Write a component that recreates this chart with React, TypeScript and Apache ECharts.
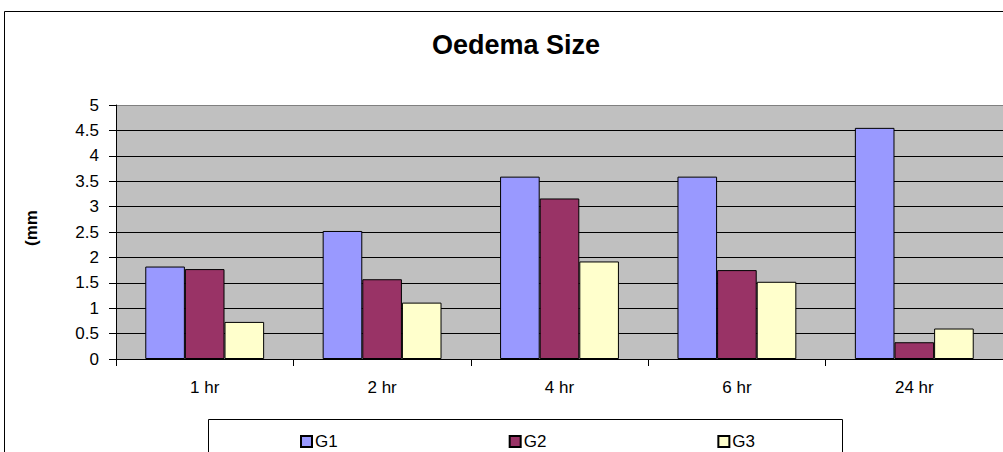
import React, { useEffect, useRef } from "react";
import * as echarts from "echarts";

const categories = ["1 hr", "2 hr", "4 hr", "6 hr", "24 hr"];
const seriesNames = ["G1", "G2", "G3"];
const g1 = [1.82, 2.52, 3.59, 3.59, 4.55];
const g2 = [1.77, 1.57, 3.16, 1.75, 0.33];
const g3 = [0.73, 1.11, 1.92, 1.52, 0.6];
const colors = ["#9999FF", "#993366", "#FFFFCC"];
const titleText = "Oedema Size";
const yName = "(mm";

export default function App() {
  const ref = useRef<HTMLDivElement>(null);
  useEffect(() => {
    if (!ref.current) return;
    const chart = echarts.init(ref.current, undefined, { renderer: "svg" });
    const font = "'Liberation Sans', Arial, sans-serif";
    const data = [g1, g2, g3];
    const splitColors = Array.from({ length: 11 }, (_, i) => (i === 10 ? "#808080" : "#000000"));
    chart.setOption({
      animation: false,
      backgroundColor: "#ffffff",
      grid: {
        left: 116,
        top: 105,
        width: 890,
        height: 254,
        show: true,
        backgroundColor: "#C0C0C0",
        borderWidth: 0,
      },
      graphic: [
        {
          type: "rect",
          shape: { x: 4.5, y: 11.5, width: 1020, height: 500 },
          style: { fill: "none", stroke: "#000000", lineWidth: 1 },
          z: 0,
          silent: true,
        },
        {
          type: "text",
          x: 516,
          y: 31,
          style: {
            text: titleText,
            font: `bold 27px ${font}`,
            fill: "#000000",
            textAlign: "center",
            textVerticalAlign: "top",
          },
        },
        {
          type: "text",
          x: 31,
          y: 228,
          rotation: Math.PI / 2,
          style: {
            text: yName,
            font: `bold 17px ${font}`,
            fill: "#000000",
            textAlign: "center",
            textVerticalAlign: "middle",
          },
        },
        {
          type: "rect",
          shape: { x: 208.5, y: 419.5, width: 634, height: 60 },
          style: { fill: "#ffffff", stroke: "#000000", lineWidth: 1 },
          z: 1,
          silent: true,
        },
      ],
      legend: {
        left: 295,
        top: 428,
        itemWidth: 11,
        itemHeight: 11,
        itemGap: 171,
        icon: "rect",
        textStyle: { fontFamily: font, fontSize: 17, color: "#000000", padding: [0, 0, 0, -2] },
        data: seriesNames,
        z: 5,
      },
      xAxis: {
        type: "category",
        data: categories,
        axisLine: { show: true, lineStyle: { color: "#000000", width: 1 } },
        axisTick: { show: true, alignWithLabel: false, length: 7, lineStyle: { color: "#000000" } },
        axisLabel: { color: "#000000", fontSize: 17, fontFamily: font, margin: 20 },
        splitLine: { show: false },
      },
      yAxis: {
        type: "value",
        min: 0,
        max: 5,
        interval: 0.5,
        axisLine: { show: true, lineStyle: { color: "#000000", width: 1 } },
        axisTick: { show: true, length: 7, lineStyle: { color: "#000000" } },
        axisLabel: { color: "#000000", fontSize: 17, fontFamily: font, margin: 17 },
        splitLine: { show: true, lineStyle: { color: splitColors, width: 1 } },
      },
      series: seriesNames.map((name, i) => ({
        name,
        type: "bar",
        data: data[i],
        barGap: "0%",
        barCategoryGap: "33%",
        itemStyle: { color: colors[i], borderColor: "#000000", borderWidth: 1 },
      })),
    });
    return () => chart.dispose();
  }, []);
  return (
    <div
      ref={ref}
      style={{ position: "fixed", left: 0, top: 0, width: 1003, height: 452 }}
    />
  );
}
